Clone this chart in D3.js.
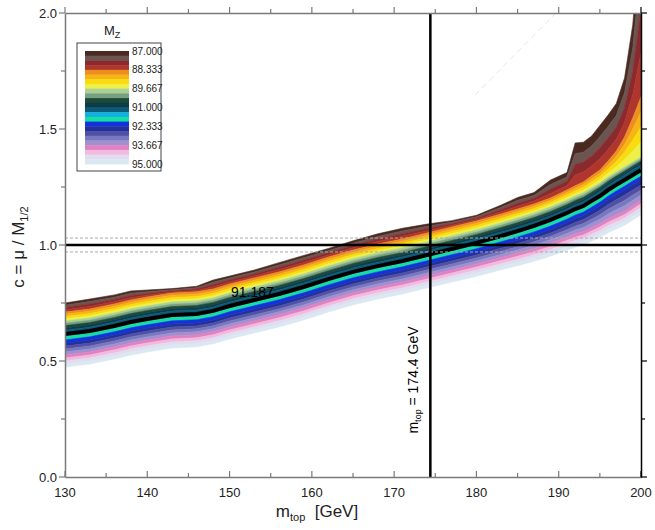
<!DOCTYPE html>
<html><head><meta charset="utf-8">
<script src="https://cdn.jsdelivr.net/npm/d3@7/dist/d3.min.js"></script>
<style>body{margin:0;background:#fff}svg{display:block}text{font-family:"Liberation Sans",Arial,sans-serif}</style>
</head><body><svg id="c" width="655" height="530"></svg>
<script>
// ---- data ----
const mGrid = [130,133,136,138,140,143,146,148,150,153,156,159,162,165,168,171,174,177,180,183,185,187,189,191,192,193,194,195,196,197,198,199,200];
const levelValues = [87, 88.333, 89.667, 91, 92.333, 93.667, 95];
const cLevel87 = [0.750,0.767,0.785,0.802,0.806,0.812,0.822,0.849,0.866,0.892,0.924,0.955,0.985,1.018,1.048,1.072,1.090,1.105,1.128,1.172,1.205,1.226,1.280,1.312,1.440,1.443,1.470,1.515,1.560,1.610,1.720,1.950,2.400];
const cLevel88 = [0.711,0.724,0.746,0.763,0.776,0.793,0.798,0.810,0.832,0.858,0.884,0.914,0.948,0.978,1.004,1.026,1.052,1.078,1.103,1.134,1.155,1.177,1.203,1.237,1.255,1.272,1.298,1.323,1.362,1.405,1.465,1.548,1.638];
const cLevel89 = [0.672,0.685,0.707,0.724,0.737,0.754,0.759,0.772,0.793,0.819,0.845,0.875,0.909,0.940,0.966,0.987,1.013,1.039,1.065,1.095,1.116,1.138,1.164,1.194,1.211,1.225,1.246,1.267,1.293,1.315,1.336,1.358,1.379];
const cLevel91 = [0.633,0.646,0.668,0.685,0.698,0.715,0.720,0.733,0.754,0.780,0.806,0.836,0.870,0.901,0.926,0.948,0.974,1.000,1.026,1.056,1.077,1.099,1.125,1.155,1.173,1.186,1.209,1.231,1.257,1.280,1.301,1.324,1.345];
const cLevel92 = [0.577,0.590,0.612,0.629,0.642,0.659,0.664,0.677,0.698,0.724,0.750,0.780,0.814,0.845,0.870,0.892,0.918,0.944,0.970,1.000,1.020,1.042,1.067,1.097,1.114,1.127,1.148,1.169,1.195,1.217,1.238,1.260,1.280];
const cLevel93 = [0.526,0.539,0.561,0.578,0.591,0.608,0.613,0.626,0.647,0.673,0.699,0.729,0.763,0.794,0.819,0.841,0.866,0.892,0.918,0.946,0.965,0.985,1.008,1.034,1.048,1.058,1.075,1.092,1.113,1.130,1.146,1.170,1.194];
const cLevel95 = [0.474,0.487,0.509,0.526,0.539,0.556,0.561,0.574,0.595,0.621,0.647,0.677,0.711,0.742,0.767,0.789,0.815,0.840,0.865,0.893,0.911,0.930,0.952,0.977,0.990,1.000,1.017,1.033,1.053,1.069,1.085,1.108,1.130];
const cMZ91187 = [0.616,0.629,0.651,0.668,0.681,0.698,0.703,0.716,0.737,0.763,0.789,0.819,0.853,0.884,0.909,0.931,0.957,0.983,1.009,1.039,1.060,1.082,1.108,1.138,1.155,1.168,1.190,1.211,1.237,1.259,1.280,1.302,1.323];
const stripeColors = ["#4a2a20","#6a5550","#8b2a2e","#b0352c","#ec8f22","#f8b412","#f8dc10","#eef048",
  "#a8d098","#78a07e","#1e4a3a","#0c3c48","#0b5a78","#12b2e0","#14dea2","#1232e0",
  "#22309c","#5050a4","#7878c0","#a090d0","#e082c2","#f2bade","#e2dcf0","#dae8f2"];
const legendLabels = ["87.000","88.333","89.667","91.000","92.333","93.667","95.000"];
const xTicks = [130,140,150,160,170,180,190,200];
const yTicks = [0.0,0.5,1.0,1.5,2.0];
const mTopRef = 174.4, cRef = 1.0, cBandHi = 1.03, cBandLo = 0.97;
const contourLabel = "91.187";

// ---- layout ----
const svg = d3.select("#c");
const L = 65, R = 641, T = 13, B = 477;
const x = d3.scaleLinear().domain([130,200]).range([L,R]);
const y = d3.scaleLinear().domain([0,2]).range([B,T]);

svg.append("defs").append("clipPath").attr("id","clip")
  .append("rect").attr("x",L).attr("y",T).attr("width",R-L).attr("height",B-T);
const plot = svg.append("g").attr("clip-path","url(#clip)");

const levels = [cLevel87,cLevel88,cLevel89,cLevel91,cLevel92,cLevel93,cLevel95];
const idx = d3.range(mGrid.length);
for (let k = 0; k < 24; k++) {
  const i = Math.floor(k/4), s = k % 4;
  const A = levels[i], Bv = levels[i+1];
  const t0 = s/4, t1 = (s+1)/4;
  const area = d3.area()
    .x(j => x(mGrid[j]))
    .y0(j => y(A[j] + (Bv[j]-A[j])*t1))
    .y1(j => y(A[j] + (Bv[j]-A[j])*t0));
  plot.append("path").attr("d", area(idx))
    .attr("fill", stripeColors[k]).attr("stroke", stripeColors[k]).attr("stroke-width",0.6);
}
const line = d3.line().x(j => x(mGrid[j])).y(j => y(cMZ91187[j]));
plot.append("path").attr("d", line(idx)).attr("fill","none").attr("stroke","#000").attr("stroke-width",4);

// faint dashed curve upper right
plot.append("line").attr("x1",475).attr("y1",95).attr("x2",556).attr("y2",13)
  .attr("stroke","#e8e8e8").attr("stroke-width",1).attr("stroke-dasharray","6,4");

// reference lines
[cBandHi,cBandLo].forEach(v => svg.append("line").attr("x1",L).attr("x2",R).attr("y1",y(v)).attr("y2",y(v))
  .attr("stroke","#aaa").attr("stroke-width",1).attr("stroke-dasharray","3,2"));
svg.append("line").attr("x1",L).attr("x2",R).attr("y1",y(cRef)).attr("y2",y(cRef)).attr("stroke","#000").attr("stroke-width",2.5);
svg.append("line").attr("x1",x(mTopRef)).attr("x2",x(mTopRef)).attr("y1",T).attr("y2",B).attr("stroke","#000").attr("stroke-width",2.5);

// contour label
svg.append("text").attr("x",231).attr("y",297).attr("font-size",14).attr("fill","#000").text(contourLabel);
// vertical line label
const vt = svg.append("text").attr("transform",`translate(${x(mTopRef)-12},380) rotate(-90)`)
  .attr("text-anchor","middle").attr("font-size",14).attr("fill","#000");
vt.append("tspan").text("m");
vt.append("tspan").attr("font-size",9).attr("dy",3).text("top");
vt.append("tspan").attr("dy",-3).text(" = 174.4 GeV");

// axes
const axCol = "#7a7a7a";
const gB = svg.append("g").attr("transform",`translate(0,${B})`)
  .call(d3.axisBottom(x).tickValues(d3.range(130,201,5)).tickSize(0).tickFormat(""));
const gL = svg.append("g").attr("transform",`translate(${L},0)`)
  .call(d3.axisLeft(y).tickValues(d3.range(0,2.01,0.25)).tickSize(0).tickFormat(""));
const gT = svg.append("g").attr("transform",`translate(0,${T})`)
  .call(d3.axisTop(x).tickValues(d3.range(130,201,5)).tickSize(0).tickFormat(""));
const gR = svg.append("g").attr("transform",`translate(${R},0)`)
  .call(d3.axisRight(y).tickValues(d3.range(0,2.01,0.25)).tickSize(0).tickFormat(""));
[gB,gL,gT,gR].forEach(g => g.select(".domain").attr("stroke",axCol).attr("stroke-width",1.5));
gR.select(".domain").attr("stroke","#000");
function ticksX(yPos, dir){
  d3.range(130,201,5).forEach(v => { const maj = v%10===0;
    svg.append("line").attr("x1",x(v)).attr("x2",x(v)).attr("y1",yPos).attr("y2",yPos+dir*(maj?6:4))
      .attr("stroke", v===200?"#000":axCol).attr("stroke-width",1.2); });
}
function ticksY(xPos, dir, col){
  d3.range(0,2.01,0.25).forEach(v => { const maj = Math.abs(v*2-Math.round(v*2))<1e-6;
    svg.append("line").attr("y1",y(v)).attr("y2",y(v)).attr("x1",xPos).attr("x2",xPos+dir*(maj?6:4))
      .attr("stroke",col).attr("stroke-width",1.2); });
}
ticksX(B,-1); ticksX(T,-1); ticksY(L,-1,axCol); ticksY(R,1,"#000");

xTicks.forEach(v => svg.append("text").attr("x",x(v)).attr("y",497).attr("text-anchor","middle")
  .attr("font-size",13).attr("fill","#222").text(v));
yTicks.forEach(v => svg.append("text").attr("x",57).attr("y",y(v)+4.5).attr("text-anchor","end")
  .attr("font-size",13).attr("fill","#222").text(v.toFixed(1)));

const xt = svg.append("text").attr("x",317).attr("y",517).attr("text-anchor","middle").attr("font-size",17).attr("fill","#222").attr("xml:space","preserve");
xt.append("tspan").text("m");
xt.append("tspan").attr("font-size",11).attr("dy",4).text("top");
xt.append("tspan").attr("dy",-4).text("  [GeV]");
const yt = svg.append("text").attr("transform","translate(24,247) rotate(-90)").attr("text-anchor","middle").attr("font-size",17).attr("fill","#222");
yt.append("tspan").text("c = \u03bc / M");
yt.append("tspan").attr("font-size",11).attr("dy",4).text("1/2");

// legend
const lg = svg.append("g");
lg.append("rect").attr("x",77).attr("y",43).attr("width",84).attr("height",128).attr("fill","#fff").attr("stroke","#444").attr("stroke-width",1);
const ly = d3.scaleLinear().domain([87,95]).range([51,164]);
stripeColors.forEach((col,k) => {
  const v0 = 87 + k/3, v1 = 87 + (k+1)/3;
  lg.append("rect").attr("x",85).attr("y",ly(v0)).attr("width",44).attr("height",ly(v1)-ly(v0)+0.4).attr("fill",col);
});
legendLabels.forEach((t,i) => lg.append("text").attr("x",132).attr("y",ly(levelValues[i])+3.5)
  .attr("font-size",10).attr("fill","#222").text(t));
const lt = lg.append("text").attr("x",104).attr("y",35).attr("font-size",13).attr("fill","#222");
lt.append("tspan").text("M");
lt.append("tspan").attr("font-size",9).attr("dy",3).text("Z");
</script></body></html>
